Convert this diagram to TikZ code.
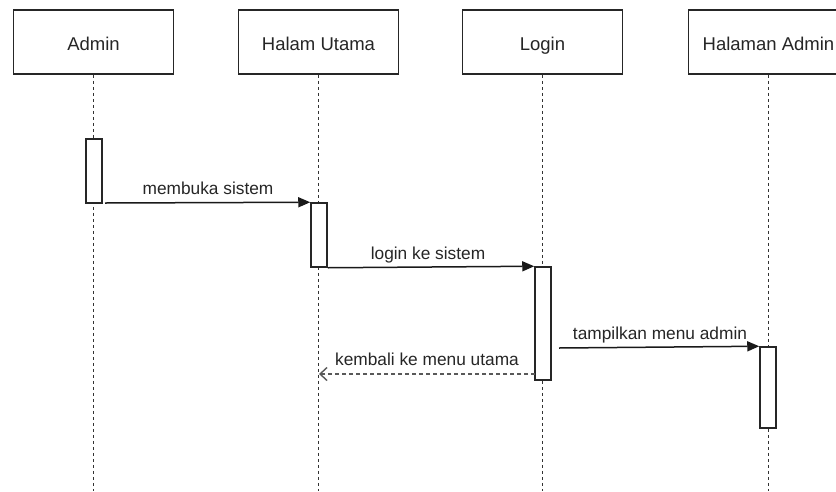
\documentclass[tikz,border=0pt]{standalone}
\usepackage{fontspec}
\setmainfont{Liberation Sans}
\usetikzlibrary{arrows.meta}
\begin{document}
\begin{tikzpicture}[x=1pt,y=-1pt,
  actor/.style={draw=black!85, line width=1.6pt, minimum width=160pt, minimum height=64pt,
    inner sep=0pt, text height=16pt, text depth=0pt,
    font=\fontsize{18.5}{20}\selectfont, text=black!85},
  lifeline/.style={line width=1.4pt, black!80, dash pattern=on 3pt off 3pt},
  activation/.style={draw=black!85, fill=white, line width=1.5pt, minimum width=16pt, inner sep=0pt},
  msg/.style={line width=1.5pt, black!90, -{Triangle[length=12pt,width=10pt]}},
  reply/.style={line width=1.4pt, black!65, dash pattern=on 4pt off 3pt,
    -{Straight Barb[length=7pt,width=13pt,line width=1.4pt]}},
  lbl/.style={font=\fontsize{17.3}{19}\selectfont, text=black!85, inner sep=0pt,
    text height=13pt, text depth=4pt}
]
\useasboundingbox (0,0) rectangle (836,491);
\fill[white] (0,0) rectangle (836,491);

% participants
\node[actor] (admin) at (93.5,42) {Admin};
\node[actor] (utama) at (318.5,42) {Halam Utama};
\node[actor] (login) at (542.5,42) {Login};
\node[actor] (hadmin) at (768.5,42) {Halaman Admin};

% lifeline ends
\coordinate (adminE) at (admin.south |- 0,491);
\coordinate (utamaE) at (utama.south |- 0,491);
\coordinate (loginE) at (login.south |- 0,491);
\coordinate (hadminE) at (hadmin.south |- 0,491);

\draw[lifeline] (admin.south) -- (adminE);
\draw[lifeline] (utama.south) -- (utamaE);
\draw[lifeline] (login.south) -- (loginE);
\draw[lifeline] (hadmin.south) -- (hadminE);

% activations
\node[activation, minimum height=64pt] (a1) at (94,171) {};
\node[activation, minimum height=64pt] (a2) at (319,235) {};
\node[activation, minimum height=113pt] (a3) at (543,323.5) {};
\node[activation, minimum height=81pt] (a4) at (768,387.5) {};

% messages
\coordinate (m1s) at (105,203);
\draw[msg] (m1s) -- (a2.north west);
\node[lbl] (l1) at (208,190) {membuka sistem};

\draw[msg] (a2.south east) -- (a3.north west);
\node[lbl] (l2) at (428,255) {login ke sistem};

\coordinate (m3s) at (559,348);
\draw[msg] (m3s) -- (a4.north west);
\node[lbl] (l3) at (660,335) {tampilkan menu admin};

\coordinate (r1s) at (535,374);
\coordinate (r1e) at (319,374);
\draw[reply] (r1s) -- (r1e);
\node[lbl] (l4) at (427,361) {kembali ke menu utama};
\end{tikzpicture}
\end{document}
